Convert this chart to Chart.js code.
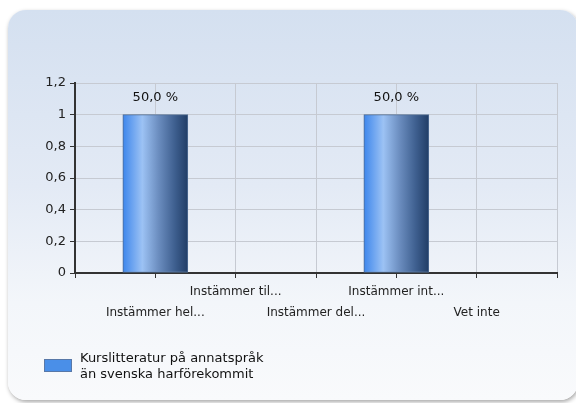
<!DOCTYPE html>
<html>
<head>
<meta charset="utf-8">
<script src="https://cdn.jsdelivr.net/npm/chart.js@4/dist/chart.umd.min.js"></script>
<style>
  html, body { margin: 0; padding: 0; background: #ffffff; width: 576px; height: 403px; overflow: hidden; }
  #panel {
    position: absolute; left: 8px; top: 10px; width: 570px; height: 390px;
    border-radius: 18px;
    background: linear-gradient(to bottom, #d4e0f0 0%, #e3eaf5 45%, #f3f6fa 75%, #f9fafc 100%);
    box-shadow: 1px 2px 4px rgba(0,0,0,0.35);
  }
  #wrap { position: absolute; left: 0; top: 0; width: 576px; height: 403px; }
  #legend {
    position: absolute; left: 44px; top: 350px;
    font-family: "DejaVu Sans", sans-serif; font-size: 13px; line-height: 16px; color: #111;
  }
  #legend .box {
    position: absolute; left: 0; top: 9px; width: 28px; height: 13px;
    background: #4a8fe8; border: 1px solid #5878a8; box-sizing: border-box;
  }
  #legend .txt { position: absolute; left: 36px; top: 0; white-space: nowrap; }
</style>
</head>
<body>
<div id="panel"></div>
<div id="wrap"><canvas id="c" width="576" height="403"></canvas></div>
<div id="legend"><div class="box"></div><div class="txt" id="legtxt"></div></div>
<script>
const categories = ["Instämmer hel...", "Instämmer til...", "Instämmer del...", "Instämmer int...", "Vet inte"];
const counts = [1, 0, 0, 1, 0];
const seriesLabelLines = ["Kurslitteratur på annatspråk", "än svenska harförekommit"];
const yTicks = [0, 0.2, 0.4, 0.6, 0.8, 1, 1.2];

document.getElementById('legtxt').innerHTML = seriesLabelLines.join('<br>');

const total = counts.reduce((a, b) => a + b, 0);
const points = counts.map((v, i) => ({ x: i + 1, y: v }));

function barGradient(ctx) {
  const chart = ctx.chart;
  if (!chart.chartArea || ctx.type !== 'data') return '#4a8fe8';
  const xs = chart.scales.x;
  const cx = xs.getPixelForValue(ctx.dataIndex + 1);
  const g = chart.ctx.createLinearGradient(cx - 32.5, 0, cx + 32.5, 0);
  g.addColorStop(0, '#3d86ec');
  g.addColorStop(0.3, '#9cc2f4');
  g.addColorStop(0.55, '#6b8dbf');
  g.addColorStop(0.8, '#3e5f8f');
  g.addColorStop(1, '#213d66');
  return g;
}

const valueLabels = {
  id: 'valueLabels',
  afterDatasetsDraw(chart) {
    const ctx = chart.ctx;
    const meta = chart.getDatasetMeta(0);
    ctx.save();
    ctx.font = '13px "DejaVu Sans", sans-serif';
    ctx.fillStyle = '#111';
    ctx.textAlign = 'center';
    ctx.textBaseline = 'middle';
    meta.data.forEach((el, i) => {
      const v = counts[i];
      if (!v) return;
      const pct = (v / total * 100).toFixed(1).replace('.', ',') + ' %';
      ctx.fillText(pct, el.x, el.y - 17);
    });
    ctx.restore();
  }
};

new Chart(document.getElementById('c'), {
  type: 'bar',
  data: {
    datasets: [{
      label: seriesLabelLines.join(' '),
      data: points,
      backgroundColor: barGradient,
      borderColor: '#4d6a92',
      borderWidth: 1,
      borderSkipped: false,
      barThickness: 65
    }]
  },
  options: {
    responsive: false,
    animation: false,
    layout: { padding: { top: 83, right: 19, left: 0, bottom: 0 } },
    plugins: { legend: { display: false }, tooltip: { enabled: false } },
    scales: {
      x: {
        type: 'linear',
        min: 0, max: 6,
        offset: false,
        afterFit(s) { s.height = 130; },
        afterBuildTicks(s) { s.ticks = [0,1,2,3,4,5,6].map(v => ({ value: v })); },
        grid: { offset: false, color: '#c6cad2', lineWidth: 1, tickLength: 5, tickColor: '#333', drawTicks: true },
        border: { color: '#333', width: 2 },
        ticks: {
          autoSkip: false,
          maxRotation: 0,
          padding: 3,
          color: '#222',
          font: { family: '"DejaVu Sans", sans-serif', size: 12, lineHeight: 1.75 },
          callback(v) {
            const i = v - 1;
            if (i < 0 || i >= categories.length) return '';
            return i % 2 === 0 ? ['', categories[i]] : [categories[i]];
          }
        }
      },
      y: {
        min: 0, max: 1.2,
        afterFit(s) { s.width = 75; },
        afterBuildTicks(s) { s.ticks = yTicks.map(v => ({ value: v })); },
        grid: { color: '#c6cad2', lineWidth: 1, tickLength: 5, tickColor: '#333' },
        border: { color: '#333', width: 2 },
        ticks: {
          padding: 4,
          color: '#222',
          font: { family: '"DejaVu Sans", sans-serif', size: 13 },
          callback(v) { return String(Math.round(v * 10) / 10).replace('.', ','); }
        }
      }
    }
  },
  plugins: [valueLabels]
});
</script>
</body>
</html>
